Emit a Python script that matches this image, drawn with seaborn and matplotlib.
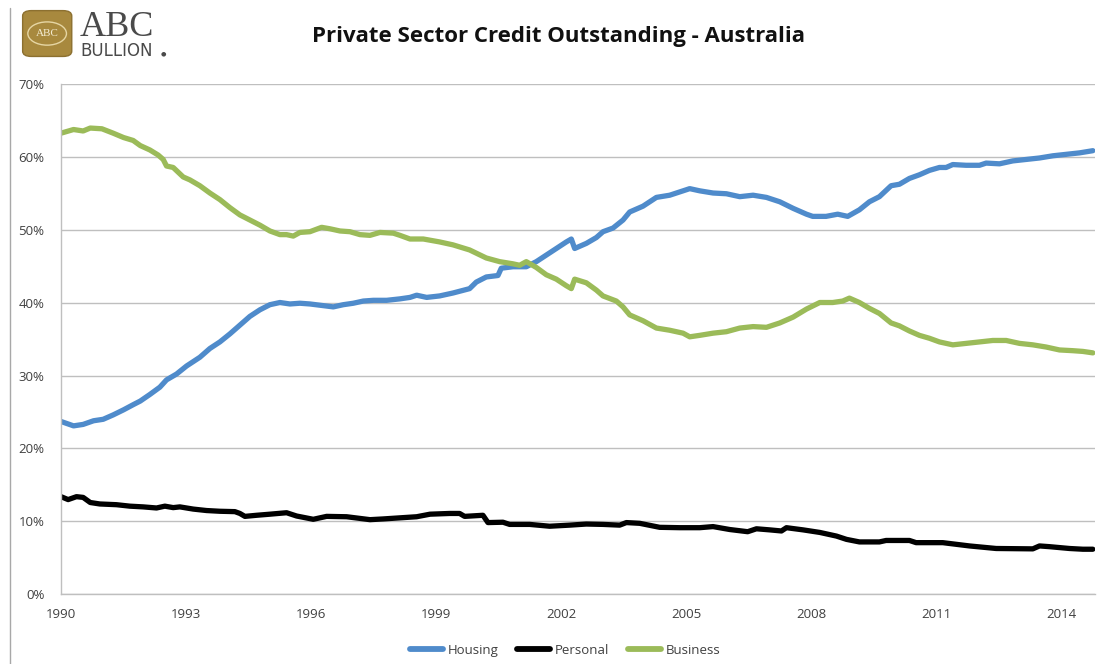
import matplotlib
matplotlib.use("Agg")
import matplotlib.pyplot as plt
from matplotlib.patches import FancyBboxPatch, Circle
from matplotlib.lines import Line2D
from matplotlib.ticker import FuncFormatter, FixedLocator
import seaborn as sns
import pandas as pd

# Share of private sector credit by category (% of total), decimal years
housing_years = [1990.0, 1990.3, 1990.53, 1990.78, 1991.01, 1991.25, 1991.5, 1991.73, 1991.9, 1992.13,
                 1992.37, 1992.53, 1992.77, 1993.01, 1993.33, 1993.57, 1993.81, 1994.05, 1994.29, 1994.53,
                 1994.77, 1995.01, 1995.25, 1995.49, 1995.73, 1995.97, 1996.25, 1996.53, 1996.77, 1997.01,
                 1997.25, 1997.49, 1997.81, 1998.13, 1998.37, 1998.53, 1998.77, 1999.08, 1999.4, 1999.8,
                 1999.96, 2000.2, 2000.48, 2000.56, 2000.84, 2001.16, 2001.4, 2001.64, 2001.88, 2002.12,
                 2002.24, 2002.32, 2002.6, 2002.84, 2003.0, 2003.24, 2003.48, 2003.64, 2003.96, 2004.28,
                 2004.6, 2004.92, 2005.08, 2005.32, 2005.64, 2005.96, 2006.28, 2006.6, 2006.92, 2007.24,
                 2007.56, 2007.88, 2008.03, 2008.35, 2008.63, 2008.87, 2009.15, 2009.39, 2009.63, 2009.91,
                 2010.11, 2010.35, 2010.59, 2010.83, 2011.07, 2011.23, 2011.39, 2011.71, 2012.03, 2012.19,
                 2012.51, 2012.83, 2013.15, 2013.47, 2013.79, 2014.11, 2014.43, 2014.75]
housing_share = [23.7, 23.1, 23.3, 23.8, 24.0, 24.6, 25.3, 26.0, 26.5, 27.4,
                 28.4, 29.4, 30.2, 31.3, 32.5, 33.7, 34.6, 35.7, 36.9, 38.1,
                 39.0, 39.7, 40.0, 39.8, 39.9, 39.8, 39.6, 39.4, 39.7, 39.9,
                 40.2, 40.3, 40.3, 40.5, 40.7, 41.0, 40.7, 40.9, 41.3, 41.9,
                 42.8, 43.5, 43.7, 44.7, 44.9, 44.9, 45.6, 46.5, 47.4, 48.3,
                 48.7, 47.4, 48.1, 48.9, 49.7, 50.2, 51.3, 52.4, 53.2, 54.4,
                 54.7, 55.3, 55.6, 55.3, 55.0, 54.9, 54.5, 54.7, 54.4, 53.8,
                 52.9, 52.1, 51.8, 51.8, 52.1, 51.8, 52.7, 53.8, 54.5, 56.0,
                 56.2, 57.0, 57.5, 58.1, 58.5, 58.5, 58.9, 58.8, 58.8, 59.1,
                 59.0, 59.4, 59.6, 59.8, 60.1, 60.3, 60.5, 60.8]

personal_years = [1990.0, 1990.17, 1990.37, 1990.53, 1990.7, 1990.93, 1991.33, 1991.65, 1991.97, 1992.29,
                  1992.49, 1992.69, 1992.85, 1993.17, 1993.49, 1993.81, 1994.17, 1994.29, 1994.41, 1994.69,
                  1995.01, 1995.41, 1995.65, 1996.05, 1996.37, 1996.85, 1997.41, 1997.73, 1998.13, 1998.53,
                  1998.85, 1999.32, 1999.56, 1999.68, 2000.12, 2000.24, 2000.6, 2000.76, 2001.24, 2001.72,
                  2002.2, 2002.6, 2003.0, 2003.4, 2003.56, 2003.88, 2004.36, 2004.84, 2005.32, 2005.64,
                  2006.04, 2006.47, 2006.68, 2007.0, 2007.28, 2007.4, 2007.8, 2008.2, 2008.6, 2008.84,
                  2009.15, 2009.63, 2009.79, 2010.35, 2010.51, 2011.15, 2011.79, 2012.43, 2013.31, 2013.47,
                  2013.71, 2014.19, 2014.51, 2014.75]
personal_share = [13.4, 13.0, 13.4, 13.3, 12.6, 12.4, 12.3, 12.1, 12.0, 11.85,
                  12.1, 11.9, 12.0, 11.7, 11.5, 11.4, 11.35, 11.1, 10.7, 10.85,
                  11.0, 11.2, 10.75, 10.3, 10.7, 10.65, 10.25, 10.35, 10.5, 10.65,
                  11.0, 11.1, 11.1, 10.7, 10.85, 9.85, 9.9, 9.6, 9.6, 9.35,
                  9.5, 9.65, 9.6, 9.5, 9.85, 9.75, 9.2, 9.15, 9.15, 9.3,
                  8.9, 8.6, 9.0, 8.85, 8.7, 9.15, 8.85, 8.5, 8.0, 7.55,
                  7.2, 7.2, 7.4, 7.4, 7.1, 7.1, 6.65, 6.3, 6.25, 6.65,
                  6.55, 6.3, 6.2, 6.2]

business_years = [1990.0, 1990.3, 1990.53, 1990.7, 1990.98, 1991.25, 1991.5, 1991.73, 1991.9, 1992.13,
                  1992.33, 1992.45, 1992.53, 1992.69, 1992.93, 1993.09, 1993.33, 1993.57, 1993.81, 1994.05,
                  1994.29, 1994.53, 1994.77, 1995.01, 1995.25, 1995.41, 1995.57, 1995.73, 1995.97, 1996.25,
                  1996.45, 1996.69, 1996.93, 1997.17, 1997.41, 1997.65, 1997.97, 1998.13, 1998.37, 1998.69,
                  1999.08, 1999.4, 1999.8, 2000.2, 2000.52, 2000.84, 2001.0, 2001.16, 2001.4, 2001.64,
                  2001.88, 2002.12, 2002.24, 2002.32, 2002.6, 2002.84, 2003.0, 2003.32, 2003.48, 2003.64,
                  2003.96, 2004.28, 2004.6, 2004.92, 2005.08, 2005.32, 2005.64, 2005.96, 2006.28, 2006.6,
                  2006.92, 2007.24, 2007.56, 2007.88, 2008.2, 2008.51, 2008.75, 2008.91, 2009.15, 2009.39,
                  2009.63, 2009.91, 2010.11, 2010.35, 2010.59, 2010.83, 2011.07, 2011.39, 2011.71, 2012.03,
                  2012.35, 2012.67, 2012.99, 2013.31, 2013.63, 2013.95, 2014.27, 2014.51, 2014.75]
business_share = [63.2, 63.7, 63.5, 63.9, 63.8, 63.2, 62.6, 62.2, 61.5, 60.9,
                  60.2, 59.6, 58.7, 58.5, 57.2, 56.8, 56.0, 55.0, 54.1, 53.0,
                  52.0, 51.3, 50.6, 49.8, 49.3, 49.3, 49.1, 49.6, 49.7, 50.3,
                  50.1, 49.8, 49.7, 49.3, 49.2, 49.6, 49.5, 49.2, 48.7, 48.7,
                  48.3, 47.9, 47.2, 46.1, 45.6, 45.3, 45.1, 45.6, 44.8, 43.8,
                  43.2, 42.3, 41.9, 43.2, 42.7, 41.7, 40.9, 40.2, 39.4, 38.3,
                  37.5, 36.5, 36.2, 35.8, 35.3, 35.5, 35.8, 36.0, 36.5, 36.7,
                  36.6, 37.2, 38.0, 39.1, 40.0, 40.0, 40.2, 40.6, 40.0, 39.2,
                  38.5, 37.2, 36.8, 36.1, 35.5, 35.1, 34.6, 34.2, 34.4, 34.6,
                  34.8, 34.8, 34.4, 34.2, 33.9, 33.5, 33.4, 33.3, 33.1]

series_names = ["Housing", "Personal", "Business"]
series_colors = ["#4F8BCB", "#000000", "#9BBB59"]
year_ticks = [1990, 1993, 1996, 1999, 2002, 2005, 2008, 2011, 2014]
pct_ticks = [0, 10, 20, 30, 40, 50, 60, 70]

frames = []
for name, yrs, vals in zip(series_names,
                           [housing_years, personal_years, business_years],
                           [housing_share, personal_share, business_share]):
    frames.append(pd.DataFrame({"year": yrs, "share": vals, "series": name}))
df = pd.concat(frames, ignore_index=True)

sns.set_theme(style="white")
plt.rcParams["font.family"] = ["Open Sans", "DejaVu Sans"]

fig = plt.figure(figsize=(11.04, 6.64), dpi=100)
ax = fig.add_axes([0.0553, 0.1047, 0.9365, 0.7695])

sns.lineplot(data=df, x="year", y="share", hue="series", hue_order=series_names,
             palette=dict(zip(series_names, series_colors)), linewidth=3.8,
             estimator=None, sort=True, legend=False, ax=ax,
             solid_capstyle="round", solid_joinstyle="round")

ax.set_xlim(1990, 2014.8)
ax.set_ylim(0, 70)
ax.xaxis.set_major_locator(FixedLocator(year_ticks))
ax.yaxis.set_major_locator(FixedLocator(pct_ticks))
ax.xaxis.set_major_formatter(FuncFormatter(lambda v, p: f"{int(round(v))}"))
ax.yaxis.set_major_formatter(FuncFormatter(lambda v, p: f"{int(round(v))}%"))
ax.set_xlabel("")
ax.set_ylabel("")

grid_col = "#BFBFBF"
ax.grid(axis="y", color=grid_col, linewidth=1.0)
ax.grid(axis="x", visible=False)
ax.set_axisbelow(True)
for side in ["top", "right"]:
    ax.spines[side].set_visible(False)
for side in ["left", "bottom"]:
    ax.spines[side].set_color(grid_col)
    ax.spines[side].set_linewidth(1.0)
ax.tick_params(axis="both", which="major", direction="out", length=4, width=1,
               color=grid_col, labelsize=9.5, labelcolor="#404040")
ax.tick_params(axis="x", pad=6)
ax.tick_params(axis="y", pad=8)

# Legend under the plot area
handles = [Line2D([0], [0], color=c, linewidth=4.2, solid_capstyle="round")
           for c in series_colors]
fig.legend(handles, series_names, loc="center", bbox_to_anchor=(0.512, 0.021),
           ncol=3, frameon=False, fontsize=9.5, handlelength=2.5,
           handletextpad=0.35, columnspacing=1.4, labelcolor="#404040")

# Title
fig.text(0.5063, 0.9447, "Private Sector Credit Outstanding - Australia",
         ha="center", va="center", fontsize=16, fontweight="bold", color="#111111")

# Brand mark in the top-left corner
fig.add_artist(Line2D([0.0095, 0.0095], [0.0, 0.988], color="#A8A8A8", linewidth=1.0))
gold = FancyBboxPatch((0.0205, 0.915), 0.0445, 0.069,
                      boxstyle="round,pad=0,rounding_size=0.008",
                      transform=fig.transFigure, facecolor="#A8893E",
                      edgecolor="#8C7030", linewidth=1.0)
fig.add_artist(gold)
ring = Circle((0.0427, 0.9495), 0.0175, transform=fig.transFigure,
              facecolor="none", edgecolor="#E6D6A4", linewidth=1.0)
fig.add_artist(ring)
fig.text(0.0427, 0.9495, "ABC", ha="center", va="center", fontsize=8,
         family="Liberation Serif", color="#F4ECD2")
fig.text(0.0718, 0.9458, "ABC", ha="left", va="baseline", fontsize=26,
         family="Liberation Serif", color="#4A4A4A")
fig.text(0.0730, 0.9150, "BULLION", ha="left", va="baseline", fontsize=12,
         family="DejaVu Sans", color="#4A4A4A")
fig.text(0.1455, 0.9160, "\u25CF", ha="left", va="baseline", fontsize=4.5,
         family="DejaVu Sans", color="#4A4A4A")

fig.savefig("out.png", dpi=100, facecolor="white")
